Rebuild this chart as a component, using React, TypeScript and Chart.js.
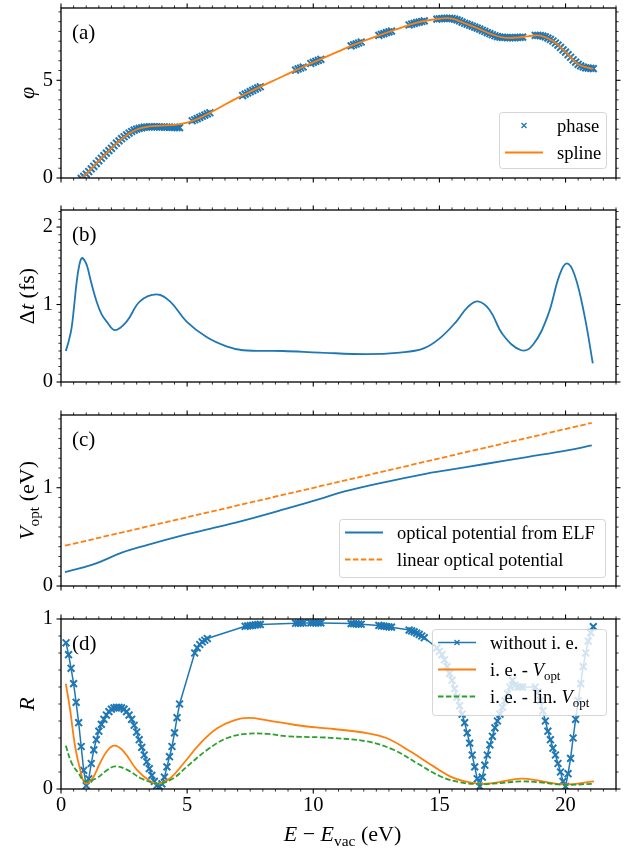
import React, { useEffect, useRef } from 'react';
import { Chart, registerables } from 'chart.js';
Chart.register(...registerables);

const FONT = '"Liberation Serif", "Times New Roman", serif';
const BLUE = '#1f77b4';
const ORANGE = '#ff7f0e';
const GREEN = '#2ca02c';

// ---------- shared x axis ----------
const X_MIN = 0;
const X_MAX = 22;
const X_TICKS = [0, 5, 10, 15, 20];
const X_MINOR = 0.5;

// ---------- (a) phase ----------
const PHASE_E = [
  0.8, 0.9, 1.0, 1.1, 1.2, 1.3, 1.4, 1.5, 1.6, 1.7, 1.8, 1.9, 2.0, 2.1, 2.2, 2.3, 2.4, 2.5, 2.6, 2.7,
  2.8, 2.9, 3.0, 3.1, 3.2, 3.3, 3.4, 3.5, 3.6, 3.7, 3.8, 3.9, 4.0, 4.1, 4.2, 4.3, 4.4, 4.5, 4.6, 4.7,
  5.2, 5.3, 5.4, 5.5, 5.6, 5.7, 5.8, 5.9,
  7.2, 7.3, 7.4, 7.5, 7.6, 7.7, 7.8, 7.9,
  9.3, 9.4, 9.5, 9.6,
  9.9, 10.0, 10.1, 10.2, 10.3,
  11.5, 11.6, 11.7, 11.8, 11.9,
  12.6, 12.7, 12.8, 12.9, 13.0, 13.1,
  13.8, 13.9, 14.0, 14.1, 14.2, 14.3, 14.4,
  14.9, 15.0, 15.1, 15.2, 15.3, 15.4, 15.5, 15.6, 15.7, 15.8, 15.9, 16.0, 16.1, 16.2, 16.3, 16.4, 16.5,
  16.6, 16.7, 16.8, 16.9, 17.0, 17.1, 17.2, 17.3, 17.4, 17.5, 17.6, 17.7, 17.8, 17.9, 18.0, 18.1, 18.2, 18.3,
  18.8, 18.9, 19.0, 19.1, 19.2, 19.3, 19.4, 19.5, 19.6, 19.7, 19.8, 19.9, 20.0, 20.1, 20.2, 20.3, 20.4,
  20.5, 20.6, 20.7, 20.8, 20.9, 21.0, 21.1,
];
const PHASE = [
  -0.02, 0.08, 0.2, 0.33, 0.47, 0.6, 0.74, 0.88, 1.01, 1.14, 1.27, 1.4, 1.52, 1.65, 1.78, 1.9, 2.01, 2.11, 2.21, 2.3,
  2.38, 2.45, 2.5, 2.54, 2.57, 2.6, 2.61, 2.62, 2.62, 2.62, 2.62, 2.61, 2.61, 2.6, 2.6, 2.6, 2.59, 2.59, 2.58, 2.58,
  2.93, 2.98, 3.04, 3.1, 3.16, 3.22, 3.28, 3.34,
  4.22, 4.29, 4.35, 4.42, 4.48, 4.55, 4.61, 4.67,
  5.52, 5.58, 5.63, 5.68,
  5.86, 5.92, 5.97, 6.02, 6.07,
  6.76, 6.81, 6.86, 6.91, 6.96,
  7.3, 7.35, 7.39, 7.44, 7.48, 7.52,
  7.83, 7.87, 7.91, 7.95, 7.98, 8.01, 8.04,
  8.13, 8.15, 8.16, 8.17, 8.17, 8.17, 8.16, 8.13, 8.09, 8.04, 7.98, 7.92, 7.87, 7.82, 7.77, 7.72, 7.67,
  7.62, 7.56, 7.5, 7.44, 7.39, 7.33, 7.28, 7.24, 7.21, 7.2, 7.19, 7.18, 7.18, 7.18, 7.18, 7.19, 7.2, 7.21,
  7.3, 7.3, 7.29, 7.26, 7.22, 7.16, 7.09, 7.01, 6.91, 6.8, 6.68, 6.56, 6.44, 6.31, 6.18, 6.05, 5.93,
  5.82, 5.74, 5.68, 5.64, 5.62, 5.61, 5.6,
];
const SPLINE_E = [
  0.8, 1.0, 1.5, 2.0, 2.5, 3.0, 3.5, 4.0, 4.5, 5.0, 5.5, 6.0, 6.5, 7.0, 7.5, 8.0, 8.5, 9.0, 9.5, 10.0, 10.5,
  11.0, 11.5, 12.0, 12.5, 13.0, 13.5, 14.0, 14.5, 15.0, 15.5, 16.0, 16.5, 17.0, 17.5, 18.0, 18.5, 19.0, 19.5,
  20.0, 20.5, 21.0, 21.1,
];
const SPLINE = [
  -0.02, 0.2, 0.88, 1.52, 2.1, 2.48, 2.64, 2.68, 2.72, 2.83, 3.08, 3.4, 3.76, 4.1, 4.42, 4.73, 5.03, 5.33, 5.63, 5.92, 6.2,
  6.48, 6.76, 7.01, 7.25, 7.48, 7.7, 7.91, 8.06, 8.15, 8.16, 7.92, 7.67, 7.39, 7.2, 7.18, 7.25, 7.29, 7.01,
  6.44, 5.82, 5.61, 5.6,
];
const A_TICKS = [0, 5];

// ---------- (b) delay ----------
const DT_E = [
  0.19, 0.3, 0.42, 0.52, 0.62, 0.72, 0.82, 0.93, 1.04, 1.2, 1.41, 1.6, 1.81, 2.14, 2.6, 3.13, 3.79, 4.32, 4.98, 5.77,
  6.56, 7.22, 8.8, 10.26, 12.1, 13.43, 14.35, 15.0, 15.67, 16.13, 16.53, 16.99, 17.52, 18.24, 18.71, 19.3, 19.76,
  20.05, 20.36, 20.75, 21.08,
];
const DT = [
  0.4, 0.52, 0.7, 0.98, 1.29, 1.5, 1.6, 1.57, 1.49, 1.28, 1.04, 0.88, 0.78, 0.67, 0.78, 1.04, 1.13, 1.04, 0.78, 0.58,
  0.46, 0.41, 0.4, 0.38, 0.36, 0.38, 0.43, 0.56, 0.78, 0.97, 1.04, 0.93, 0.61, 0.41, 0.48, 0.86, 1.38,
  1.53, 1.38, 0.86, 0.24,
];
const B_TICKS = [0, 1, 2];

// ---------- (c) optical potential ----------
const VELF_E = [0.16, 1.28, 2.41, 3.37, 4.82, 5.94, 7.23, 8.83, 10.44, 11.24, 12.85, 14.45, 15.26, 16.86, 18.47, 20.07, 21.04];
const VELF = [0.142, 0.22, 0.339, 0.414, 0.515, 0.583, 0.666, 0.78, 0.9, 0.963, 1.058, 1.142, 1.176, 1.244, 1.312, 1.38, 1.43];
const VLIN_E = [0.16, 21.04];
const VLIN = [0.41, 1.66];
const C_TICKS = [0, 1];

// ---------- (d) reflectivity ----------
const R_E = [
  0.2, 0.3, 0.4, 0.5, 0.6, 0.7, 0.8, 0.9, 1.0, 1.1, 1.2, 1.3, 1.4, 1.5, 1.6, 1.7, 1.8, 1.9, 2.0, 2.1, 2.2, 2.3,
  2.4, 2.5, 2.6, 2.7, 2.8, 2.9, 3.0, 3.1, 3.2, 3.3, 3.4, 3.5, 3.6, 3.7, 3.8, 3.9, 4.0, 4.1, 4.2, 4.3, 4.4, 4.5, 4.6, 4.7,
  5.3, 5.4, 5.5, 5.6, 5.7, 5.8,
  7.3, 7.4, 7.5, 7.6, 7.7, 7.8, 7.9,
  9.3, 9.4, 9.5, 9.6,
  9.9, 10.0, 10.1, 10.2, 10.3,
  11.5, 11.6, 11.7, 11.8, 11.9,
  12.6, 12.7, 12.8, 12.9, 13.0, 13.1,
  13.8, 13.9, 14.0, 14.1, 14.2, 14.3, 14.4,
  14.9, 15.0, 15.1, 15.2, 15.3, 15.4, 15.5, 15.6, 15.7, 15.8, 15.9, 16.0, 16.1, 16.2, 16.3, 16.4, 16.5,
  16.6, 16.7, 16.8, 16.9, 17.0, 17.1, 17.2, 17.3, 17.4, 17.5, 17.6, 17.7, 17.8, 17.9, 18.0, 18.1, 18.2, 18.3,
  18.8, 18.9, 19.0, 19.1, 19.2, 19.3, 19.4, 19.5, 19.6, 19.7, 19.8, 19.9, 20.0, 20.1, 20.2, 20.3, 20.4,
  20.5, 20.6, 20.7, 20.8, 20.9, 21.0, 21.1,
];
const R_NO_IE = [
  0.86, 0.79, 0.71, 0.62, 0.51, 0.39, 0.25, 0.11, 0.02, 0.06, 0.15, 0.23, 0.29, 0.34, 0.38, 0.41, 0.435, 0.455, 0.47, 0.477, 0.48, 0.48,
  0.477, 0.47, 0.455, 0.435, 0.41, 0.375, 0.335, 0.29, 0.245, 0.2, 0.16, 0.12, 0.08, 0.045, 0.02, 0.015, 0.03, 0.07, 0.13, 0.19, 0.25, 0.33, 0.42, 0.5,
  0.8, 0.83, 0.85, 0.865, 0.875, 0.885,
  0.957, 0.959, 0.961, 0.963, 0.965, 0.967, 0.968,
  0.975, 0.976, 0.976, 0.977,
  0.977, 0.977, 0.977, 0.977, 0.977,
  0.973, 0.972, 0.971, 0.97, 0.969,
  0.962, 0.96, 0.958, 0.956, 0.954, 0.952,
  0.935, 0.93, 0.924, 0.917, 0.909, 0.9, 0.89,
  0.83, 0.81, 0.79, 0.76, 0.72, 0.68, 0.64, 0.59, 0.54, 0.49, 0.44, 0.39, 0.33, 0.27, 0.2, 0.13, 0.06,
  0.015, 0.07, 0.14, 0.2, 0.26, 0.31, 0.36, 0.4, 0.44, 0.48, 0.52, 0.56, 0.6, 0.64, 0.61, 0.6, 0.6, 0.6,
  0.6, 0.57, 0.52, 0.46, 0.4, 0.34, 0.29, 0.24, 0.2, 0.15, 0.1, 0.045, 0.015, 0.09, 0.18, 0.3, 0.41,
  0.52, 0.62, 0.72, 0.8, 0.87, 0.92, 0.955,
];
const R_IE_E = [
  0.19, 0.36, 0.56, 0.76, 0.95, 1.22, 1.55, 1.82, 2.11, 2.48, 3.0, 3.54, 3.87, 4.34, 4.87, 5.53, 6.19, 6.86, 7.45, 8.18,
  9.24, 10.3, 10.8, 12.12, 12.9, 13.84, 14.77, 15.56, 16.36, 16.89, 17.68, 18.28, 19.0, 19.93, 21.13,
];
const R_IE = [
  0.62, 0.467, 0.25, 0.114, 0.035, 0.055, 0.153, 0.222, 0.255, 0.222, 0.114, 0.045, 0.031, 0.065, 0.153, 0.27, 0.357, 0.404, 0.418, 0.404,
  0.378, 0.359, 0.353, 0.329, 0.3, 0.222, 0.133, 0.065, 0.035, 0.031, 0.049, 0.061, 0.047, 0.027, 0.045,
];
const R_LIN_E = [
  0.19, 0.42, 0.69, 0.95, 1.42, 1.82, 2.15, 2.61, 3.14, 3.67, 3.94, 4.47, 5.0, 5.8, 6.59, 7.39, 8.18, 8.98, 10.3,
  10.8, 12.12, 13.18, 14.1, 15.03, 15.83, 16.62, 17.42, 18.21, 19.0, 19.93, 21.13,
];
const R_LIN = [
  0.255, 0.153, 0.094, 0.045, 0.065, 0.11, 0.133, 0.114, 0.065, 0.035, 0.031, 0.065, 0.133, 0.231, 0.3, 0.325, 0.324, 0.31, 0.304,
  0.3, 0.28, 0.231, 0.153, 0.075, 0.039, 0.029, 0.035, 0.045, 0.039, 0.025, 0.031,
];
const D_TICKS = [0, 1];

// ---------- text pieces ----------
type Seg = { t: string; it?: boolean; sub?: boolean };
const X_TITLE: Seg[] = [{ t: 'E', it: true }, { t: ' − ' }, { t: 'E', it: true }, { t: 'vac', sub: true }, { t: ' (eV)' }];
const Y_TITLE_A: Seg[] = [{ t: 'φ', it: true }];
const Y_TITLE_B: Seg[] = [{ t: 'Δ' }, { t: 't', it: true }, { t: ' (fs)' }];
const Y_TITLE_C: Seg[] = [{ t: 'V', it: true }, { t: 'opt', sub: true }, { t: ' (eV)' }];
const Y_TITLE_D: Seg[] = [{ t: 'R', it: true }];

// ---------- layout ----------
const W = 637;
const H = 850;
const PLOT_LEFT = 61;
const PLOT_RIGHT = 616;
const TICK_SIZE = 20.5;
const LEG_SIZE = 18.5;
const TITLE_SIZE = 22;

const pts = (xs: number[], ys: number[]) => xs.map((x, i) => ({ x, y: ys[i] }));

type LegRow = { kind: 'marker' | 'line' | 'dash' | 'markerline'; color: string; label: Seg[] };
type PanelCfg = {
  top: number; bottom: number; yMax: number; yTicks: number[]; yMinor: number;
  label: string; yTitle: Seg[]; showX: boolean;
  legend?: { box: [number, number, number, number]; rows: LegRow[] };
  datasets: any[];
};

const lineDs = (label: string, data: any[], color: string, order: number, dash?: number[]) => ({
  label, data, borderColor: color, backgroundColor: color, borderWidth: 1.8, order,
  borderDash: dash || [], pointRadius: 0, tension: 0.4, fill: false,
});

const markerStyle = { pointStyle: 'crossRot', pointRadius: 4.8, pointBorderWidth: 2 };

const PANELS: PanelCfg[] = [
  {
    top: 8, bottom: 178, yMax: 8.7, yTicks: A_TICKS, yMinor: 0.5, label: '(a)', yTitle: Y_TITLE_A, showX: false,
    legend: {
      box: [499, 112, 606, 168],
      rows: [
        { kind: 'marker', color: BLUE, label: [{ t: 'phase' }] },
        { kind: 'line', color: ORANGE, label: [{ t: 'spline' }] },
      ],
    },
    datasets: [
      {
        label: 'phase', data: pts(PHASE_E, PHASE), showLine: false, ...markerStyle, order: 2,
        borderColor: BLUE, backgroundColor: BLUE,
      },
      lineDs('spline', pts(SPLINE_E, SPLINE), ORANGE, 1),
    ],
  },
  {
    top: 210, bottom: 382, yMax: 2.22, yTicks: B_TICKS, yMinor: 0.1, label: '(b)', yTitle: Y_TITLE_B, showX: false,
    datasets: [lineDs('dt', pts(DT_E, DT), BLUE, 1)],
  },
  {
    top: 415, bottom: 586, yMax: 1.74, yTicks: C_TICKS, yMinor: 0.1, label: '(c)', yTitle: Y_TITLE_C, showX: false,
    legend: {
      box: [339, 519, 605, 577],
      rows: [
        { kind: 'line', color: BLUE, label: [{ t: 'optical potential from ELF' }] },
        { kind: 'dash', color: ORANGE, label: [{ t: 'linear optical potential' }] },
      ],
    },
    datasets: [
      lineDs('optical potential from ELF', pts(VELF_E, VELF), BLUE, 2),
      lineDs('linear optical potential', pts(VLIN_E, VLIN), ORANGE, 1, [5.5, 2.4]),
    ],
  },
  {
    top: 619, bottom: 789, yMax: 1, yTicks: D_TICKS, yMinor: 0.1, label: '(d)', yTitle: Y_TITLE_D, showX: true,
    legend: {
      box: [432, 629, 606, 715],
      rows: [
        { kind: 'markerline', color: BLUE, label: [{ t: 'without i. e.' }] },
        { kind: 'line', color: ORANGE, label: [{ t: 'i. e. - ' }, { t: 'V', it: true }, { t: 'opt', sub: true }] },
        { kind: 'dash', color: GREEN, label: [{ t: 'i. e. - lin. ' }, { t: 'V', it: true }, { t: 'opt', sub: true }] },
      ],
    },
    datasets: [
      {
        label: 'without i. e.', data: pts(R_E, R_NO_IE), borderColor: BLUE, backgroundColor: BLUE, borderWidth: 1.5,
        ...markerStyle, tension: 0, fill: false, order: 3,
      },
      lineDs('i. e. - V_opt', pts(R_IE_E, R_IE), ORANGE, 2),
      lineDs('i. e. - lin. V_opt', pts(R_LIN_E, R_LIN), GREEN, 1, [5.5, 2.4]),
    ],
  },
];

// ---------- drawing helpers ----------
const fontStr = (size: number, italic?: boolean) => `${italic ? 'italic ' : ''}${size}px ${FONT}`;

function richWidth(ctx: CanvasRenderingContext2D, segs: Seg[], size: number) {
  let w = 0;
  for (const s of segs) {
    ctx.font = fontStr(s.sub ? size * 0.7 : size, s.it);
    w += ctx.measureText(s.t).width;
  }
  return w;
}

function drawRich(ctx: CanvasRenderingContext2D, segs: Seg[], x: number, y: number, size: number) {
  ctx.textAlign = 'left';
  ctx.textBaseline = 'alphabetic';
  let cx = x;
  for (const s of segs) {
    const sz = s.sub ? size * 0.7 : size;
    ctx.font = fontStr(sz, s.it);
    ctx.fillText(s.t, cx, s.sub ? y + size * 0.22 : y);
    cx += ctx.measureText(s.t).width;
  }
}

function forSteps(min: number, max: number, step: number, fn: (v: number) => void) {
  const k0 = Math.ceil(min / step - 1e-9);
  const k1 = Math.floor(max / step + 1e-9);
  for (let k = k0; k <= k1; k++) fn(+(k * step).toFixed(6));
}

function drawX(ctx: CanvasRenderingContext2D, cx: number, cy: number, r: number) {
  ctx.beginPath();
  ctx.moveTo(cx - r, cy - r); ctx.lineTo(cx + r, cy + r);
  ctx.moveTo(cx - r, cy + r); ctx.lineTo(cx + r, cy - r);
  ctx.stroke();
}

function makeDecor(p: PanelCfg) {
  return {
    id: 'decor',
    afterDraw(chart: any) {
      const ctx: CanvasRenderingContext2D = chart.ctx;
      const a = chart.chartArea;
      const xs = chart.scales.x;
      const ys = chart.scales.y;
      ctx.save();
      ctx.strokeStyle = '#000';
      const seg = (x1: number, y1: number, x2: number, y2: number) => {
        ctx.beginPath(); ctx.moveTo(x1, y1); ctx.lineTo(x2, y2); ctx.stroke();
      };
      // x ticks (bottom + top, outward)
      forSteps(X_MIN, X_MAX, X_MINOR, (v) => {
        const major = X_TICKS.some((t) => Math.abs(t - v) < 1e-6);
        const len = major ? 4.5 : 2.6;
        ctx.lineWidth = major ? 1.1 : 0.8;
        const px = xs.getPixelForValue(v);
        seg(px, a.bottom, px, a.bottom + len);
        seg(px, a.top, px, a.top - len);
      });
      // y ticks (left + right, outward)
      forSteps(0, p.yMax, p.yMinor, (v) => {
        const major = p.yTicks.some((t) => Math.abs(t - v) < 1e-6);
        const len = major ? 4.5 : 2.6;
        ctx.lineWidth = major ? 1.1 : 0.8;
        const py = ys.getPixelForValue(v);
        seg(a.left, py, a.left - len, py);
        seg(a.right, py, a.right + len, py);
      });
      // frame
      ctx.lineWidth = 1.3;
      ctx.strokeRect(a.left, a.top, a.right - a.left, a.bottom - a.top);

      // legend
      if (p.legend) {
        const [x0, y0, x1, y1] = p.legend.box;
        ctx.beginPath();
        (ctx as any).roundRect(x0 + 0.5, y0 + 0.5, x1 - x0, y1 - y0, 3);
        ctx.fillStyle = 'rgba(255,255,255,0.8)';
        ctx.fill();
        ctx.strokeStyle = 'rgba(204,204,204,0.8)';
        ctx.lineWidth = 1;
        ctx.stroke();
        p.legend.rows.forEach((row, i) => {
          const ry = y0 + 13.5 + i * 27;
          const hx0 = x0 + 6;
          const hx1 = x0 + 44;
          ctx.strokeStyle = row.color;
          if (row.kind === 'line' || row.kind === 'dash' || row.kind === 'markerline') {
            ctx.lineWidth = row.kind === 'markerline' ? 1.5 : 1.8;
            ctx.setLineDash(row.kind === 'dash' ? [5.5, 2.4] : []);
            seg(hx0, ry, hx1, ry);
            ctx.setLineDash([]);
          }
          if (row.kind === 'marker' || row.kind === 'markerline') {
            ctx.lineWidth = 1.3;
            drawX(ctx, (hx0 + hx1) / 2, ry, 2.5);
          }
          ctx.fillStyle = '#000';
          drawRich(ctx, row.label, x0 + 58, ry + 6, LEG_SIZE);
        });
      }

      // panel label
      ctx.fillStyle = '#000';
      drawRich(ctx, [{ t: p.label }], 72, a.top + 31, 21);

      // y title (rotated)
      const yw = richWidth(ctx, p.yTitle, TITLE_SIZE);
      ctx.save();
      ctx.translate(34, (a.top + a.bottom) / 2);
      ctx.rotate(-Math.PI / 2);
      drawRich(ctx, p.yTitle, -yw / 2, 0, TITLE_SIZE);
      ctx.restore();

      // x title
      if (p.showX) {
        const xw = richWidth(ctx, X_TITLE, TITLE_SIZE);
        drawRich(ctx, X_TITLE, (a.left + a.right) / 2 + 4 - xw / 2, 841, TITLE_SIZE);
      }
      ctx.restore();
    },
  };
}

function buildConfig(p: PanelCfg): any {
  return {
    type: 'line',
    data: { datasets: p.datasets },
    options: {
      animation: false,
      responsive: false,
      devicePixelRatio: 1,
      events: [],
      layout: {
        padding: { left: 0, right: W - PLOT_RIGHT, top: p.top, bottom: p.showX ? 0 : H - p.bottom },
      },
      plugins: { legend: { display: false }, tooltip: { enabled: false }, title: { display: false } },
      scales: {
        x: {
          type: 'linear', min: X_MIN, max: X_MAX,
          afterBuildTicks: (s: any) => { s.ticks = X_TICKS.map((v) => ({ value: v })); },
          ticks: {
            display: p.showX, padding: 4, color: '#000', maxRotation: 0, autoSkip: false,
            font: { family: FONT, size: TICK_SIZE },
            callback: (v: any) => String(v),
          },
          grid: { display: false, drawTicks: false },
          border: { display: false },
          afterFit: (s: any) => {
            s.height = p.showX ? H - p.bottom : 0;
            s.paddingLeft = 0; s.paddingRight = 0; s.paddingTop = 0; s.paddingBottom = 0;
          },
        },
        y: {
          type: 'linear', min: 0, max: p.yMax,
          afterBuildTicks: (s: any) => { s.ticks = p.yTicks.map((v) => ({ value: v })); },
          ticks: {
            padding: 8, color: '#000', autoSkip: false,
            font: { family: FONT, size: TICK_SIZE },
            callback: (v: any) => String(v),
          },
          grid: { display: false, drawTicks: false },
          border: { display: false },
          afterFit: (s: any) => {
            s.width = PLOT_LEFT;
            s.paddingLeft = 0; s.paddingRight = 0; s.paddingTop = 0; s.paddingBottom = 0;
          },
        },
      },
    },
    plugins: [makeDecor(p)],
  };
}

function Panel({ cfg }: { cfg: PanelCfg }) {
  const ref = useRef<HTMLCanvasElement>(null);
  useEffect(() => {
    const chart = new Chart(ref.current as HTMLCanvasElement, buildConfig(cfg));
    return () => chart.destroy();
  }, [cfg]);
  return (
    <canvas
      ref={ref}
      width={W}
      height={H}
      style={{ position: 'absolute', left: 0, top: 0, width: W, height: H }}
    />
  );
}

export default function App() {
  return (
    <div style={{ position: 'absolute', left: 0, top: 0, width: W, height: H, background: '#fff' }}>
      {PANELS.map((p, i) => (
        <Panel key={i} cfg={p} />
      ))}
    </div>
  );
}
